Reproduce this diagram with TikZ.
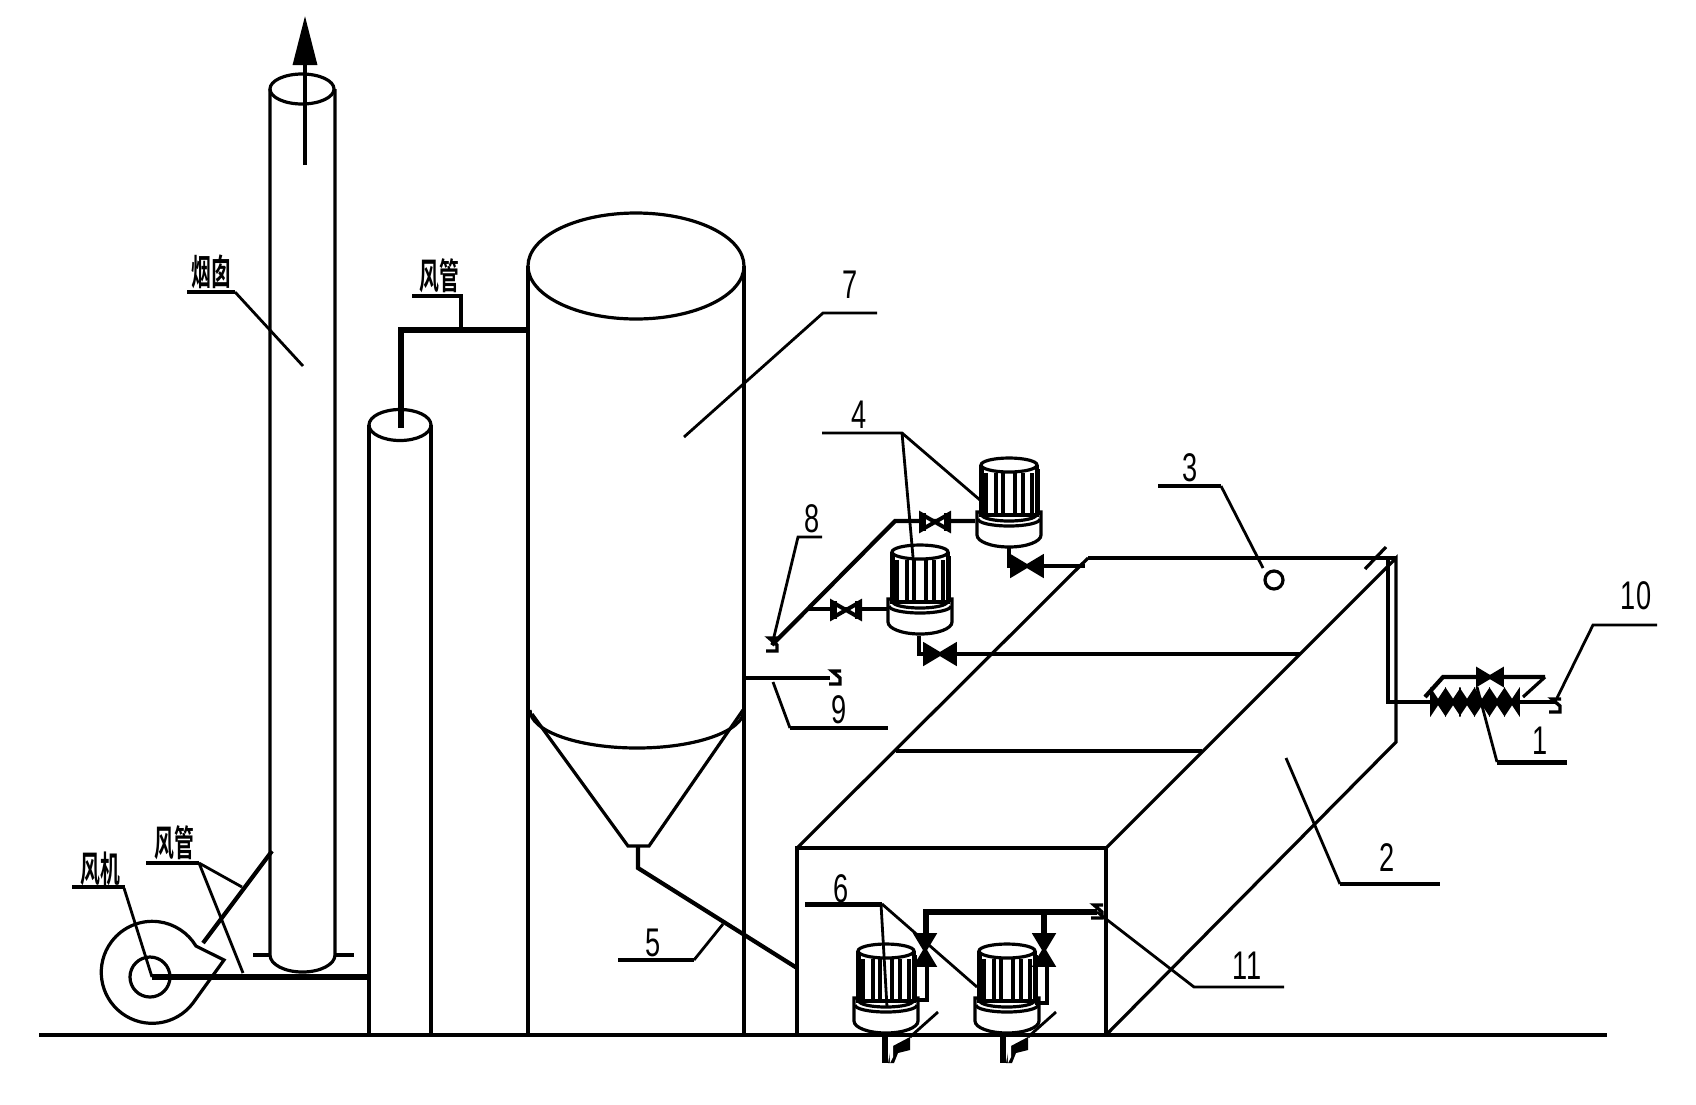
\documentclass[tikz,border=0pt]{standalone}
\usepackage{fontspec}
\setmainfont{Liberation Sans}
\newfontfamily\cjk{Noto Sans CJK SC}[BoldFont={* Bold}]
\usetikzlibrary{arrows.meta}
\tikzset{
  part/.style = {line width=3.2pt},
  leader/.style = {line width=2.8pt},
  pipe/.style = {line width=4.2pt},
  mainpipe/.style = {line width=6pt},
  numlabel/.style = {font=\fontsize{40}{40}\selectfont, xscale=0.68, transform shape, inner sep=0pt},
  cjklabel/.style = {font=\cjk\bfseries\fontsize{36}{36}\selectfont, xscale=0.55, transform shape, inner sep=0pt},
  valve/.pic = {
    \draw[line width=4pt, fill=white] (-14,-8) -- (14,8) -- (14,-8) -- (-14,8) -- cycle;
    \fill (-14,-9) rectangle (-9,9);
    \fill (14,-9) rectangle (9,9);
  },
  darkvalve/.pic = {
    \draw[line width=3.6pt, fill=black] (-15,-9) -- (15,9) -- (15,-9) -- (-15,9) -- cycle;
  },
  endmark/.pic = {
    \draw[line width=3.4pt] (6,-7) -- (-3,-7) -- (5,0) -- (5,6) -- (-6,6);
  },
  pump/.pic = {
    \draw[part, fill=white] (-32,47) -- (-32,70) arc[start angle=180, end angle=360, x radius=32pt, y radius=12pt] -- (32,47) -- cycle;
    \draw[part, fill=white] (-28,0) -- (-28,50) -- (28,50) -- (28,0);
    \draw[part, fill=white] (0,0) ellipse [x radius=28pt, y radius=7pt];
    \foreach \ribx in {-23,-13,-6,6,14,23}
      \draw[part] (\ribx,8) -- (\ribx,49);
    \draw[line width=5pt] (-28,4) -- (-28,50);
    \draw[line width=5pt] (28,4) -- (28,50);
    \draw[part] (-27,50) arc[start angle=180, end angle=360, x radius=27pt, y radius=6pt];
    \draw[part] (-31,54) arc[start angle=180, end angle=360, x radius=31pt, y radius=7pt];
  },
  footing/.pic = {
    \draw[mainpipe] (0,0) -- (0,28);
    \draw[leader] (53,-23) -- (25,2);
    \fill (6,12) -- (25,2) -- (25,15) -- (13,18) -- (9,28) -- (3,28) -- cycle;
    \fill[white] (4,8) -- (5,28) -- (8,22) -- (8,9) -- cycle;
  }
}
\begin{document}
\begin{tikzpicture}[x=1pt,y=-1pt]
  \fill[white] (0,0) rectangle (1696,1104);
  % tank corners
  \coordinate (FL) at (797,848);
  \coordinate (FR) at (1106,848);
  \coordinate (BL) at (1088,558);
  \coordinate (BR) at (1396,558);
  \coordinate (DR) at (1396,742);
  \coordinate (GL) at (797,1035);
  \coordinate (GR) at (1106,1035);

  % ground
  \draw[part] (39,1035) -- (1607,1035);

  % chimney
  \draw[part] (270,89) -- (270,955) arc[start angle=180, end angle=360, x radius=32.5pt, y radius=17pt] -- (335,89);
  \draw[part] (302,89) ellipse [x radius=32pt, y radius=15pt];
  \draw[part] (253,955) -- (270,955);
  \draw[part] (335,955) -- (354,955);
  \draw[part, -{Triangle[length=49pt, width=24pt]}] (305,165) -- (305,16);

  % filter column
  \draw[part] (369,1035) -- (369,425);
  \draw[part] (431,1035) -- (431,425);
  \draw[part] (400,425) ellipse [x radius=31pt, y radius=15.5pt];

  % silo
  \draw[part] (528,1035) -- (528,266);
  \draw[part] (744,1035) -- (744,266);
  \draw[part] (636,266) ellipse [x radius=108pt, y radius=53pt];
  \draw[part] (530,710) arc[start angle=180, end angle=360, x radius=107pt, y radius=38pt];
  \draw[part] (532,714) -- (628,846) -- (649,846) -- (743,710);
  \draw[pipe] (638,846) -- (638,868) -- (797,968);

  % ducts
  \draw[mainpipe] (401,428) -- (401,330) -- (528,330);
  \draw[mainpipe] (152,977) -- (369,977);
  \draw[pipe] (203,943) -- (272,851);

  % fan
  \draw[part] (193,1003) arc[start angle=-37, end angle=-329, radius=51pt] -- (224,960) -- cycle;
  \draw[part] (150,977) circle [radius=20pt];

  % tank
  \draw[part] (GL) -- (FL) -- (FR) -- (GR);
  \draw[part] (FL) -- (BL);
  \draw[pipe] (BL) -- (BR);
  \draw[part] (FR) -- (BR) -- (DR) -- (GR);
  \draw[pipe] (896,751) -- (1202,751);
  \draw[pipe] (919,654) -- (1300,654);
  \draw[part] (1274,580) circle [radius=9pt];
  \draw[part] (1386,547) -- (1365,569);

  % inlet and bypass
  \draw[pipe] (1388,558) -- (1388,702) -- (1556,702);
  \draw[pipe] (1425,697) -- (1443,677) -- (1545,677);
  \draw[part] (1545,677) -- (1523,697);
  \pic[scale=0.8] at (1490,677) {darkvalve};
  \foreach \valvex in {1438,1453,1467,1482,1497,1512}
    \pic[xscale=0.4] at (\valvex,702) {darkvalve};
  \pic at (1555,706) {endmark};

  % dosing pipes with pumps
  \draw[pipe] (772,645) -- (895,521) -- (975,521);
  \draw[part] (808,609) -- (887,609);
  \pic at (935,522) {valve};
  \pic at (846,610) {valve};
  \pic at (772,645) {endmark};
  \pic at (1009,465) {pump};
  \pic at (920,552) {pump};
  \draw[pipe] (1009,547) -- (1009,566) -- (1085,566);
  \draw[pipe] (919,636) -- (919,654) -- (950,654);
  \pic at (1027,566) {darkvalve};
  \pic at (940,654) {darkvalve};

  % overflow pipe 9
  \draw[part] (744,678) -- (830,678);
  \pic at (835,678) {endmark};

  % outlet pumps
  \draw[mainpipe] (926,933) -- (926,912) -- (1097,912);
  \draw[mainpipe] (1044,912) -- (1044,933);
  \pic at (886,951) {pump};
  \pic at (1007,951) {pump};
  \draw[part] (927,967) -- (927,1000) -- (914,1000);
  \draw[part] (1047,967) -- (1047,1003) -- (1035,1003);
  \pic[rotate=90] at (925,950) {darkvalve};
  \pic[rotate=90] at (1044,950) {darkvalve};
  \pic at (1097,912) {endmark};
  \pic at (885,1035) {footing};
  \pic at (1003,1035) {footing};

  % labels
  \node[numlabel] (num1) at (1540,741) {1};
  \node[numlabel] (num2) at (1387,858) {2};
  \node[numlabel] (num3) at (1190,468) {3};
  \node[numlabel] (num4) at (859,415) {4};
  \node[numlabel] (num5) at (653,943) {5};
  \node[numlabel] (num6) at (841,889) {6};
  \node[numlabel] (num7) at (850,285) {7};
  \node[numlabel] (num8) at (812,519) {8};
  \node[numlabel] (num9) at (839,710) {9};
  \node[numlabel] (num10) at (1636,596) {10};
  \node[numlabel] (num11) at (1247,966) {11};
  \node[cjklabel] (chimney) at (211,272) {烟囱};
  \node[cjklabel] (ductupper) at (439,276) {风管};
  \node[cjklabel] (ductlower) at (174,843) {风管};
  \node[cjklabel] (fanlabel) at (100,869) {风机};

  % leaders
  \draw[leader] (235,292) -- (303,366);
  \draw[mainpipe, line width=4.5pt] (187,292) -- (235,292);
  \draw[leader, line width=3.4pt] (412,296) -- (461,296) -- (461,330);
  \draw[leader] (684,437) -- (823,313) -- (877,313);
  \draw[leader] (822,433) -- (902,433) -- (980,500);
  \draw[leader] (902,433) -- (913,557);
  \draw[leader] (1263,568) -- (1221,486);
  \draw[leader, line width=4.5pt] (1158,486) -- (1221,486);
  \draw[leader] (822,537) -- (798,537) -- (772,645);
  \draw[leader] (773,682) -- (790,728);
  \draw[leader, line width=4pt] (790,728) -- (888,728);
  \draw[leader] (723,924) -- (694,960);
  \draw[leader, line width=4.5pt] (618,960) -- (694,960);
  \draw[leader] (1286,758) -- (1340,884);
  \draw[leader, line width=4pt] (1340,884) -- (1440,884);
  \draw[leader] (1477,687) -- (1497,762);
  \draw[leader, line width=5pt] (1497,762) -- (1567,762);
  \draw[leader] (1557,698) -- (1593,625) -- (1657,625);
  \draw[leader, line width=5pt] (805,904) -- (882,904);
  \draw[leader] (881,904) -- (887,1007);
  \draw[leader] (882,904) -- (977,987);
  \draw[leader] (1097,912) -- (1194,987) -- (1284,987);
  \draw[leader, line width=4.5pt] (72,887) -- (125,887);
  \draw[leader] (124,888) -- (152,977);
  \draw[leader, line width=4pt] (146,863) -- (199,863);
  \draw[leader] (199,863) -- (242,887);
  \draw[leader] (199,863) -- (243,973);
\end{tikzpicture}
\end{document}
